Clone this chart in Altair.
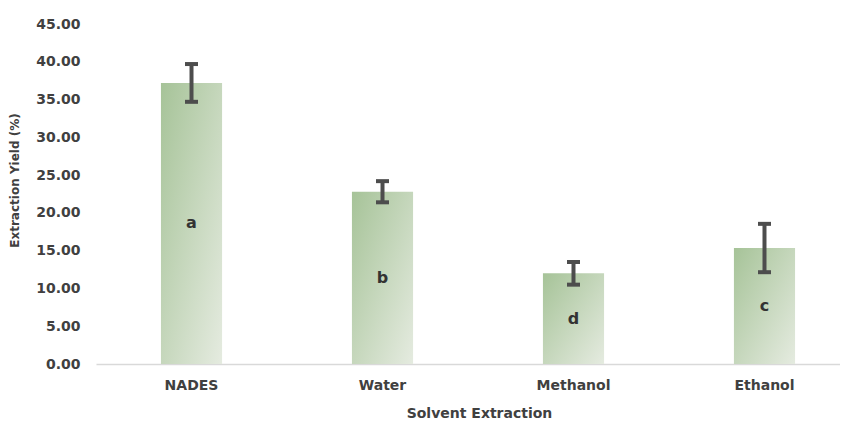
import altair as alt
import pandas as pd

categories = ["NADES", "Water", "Methanol", "Ethanol"]
means = [37.2, 22.8, 12.0, 15.35]
errors = [2.5, 1.4, 1.5, 3.2]
letters = ["a", "b", "d", "c"]
y_ticks = [0, 5, 10, 15, 20, 25, 30, 35, 40, 45]

df = pd.DataFrame({"solvent": categories, "mean": means, "err": errors, "letter": letters})
df["lo"] = df["mean"] - df["err"]
df["hi"] = df["mean"] + df["err"]
df["mid"] = df["mean"] / 2

FONT = "DejaVu Sans"
TXT = "#404040"

xscale = alt.Scale(domain=categories, paddingInner=0.68, paddingOuter=0.2877, align=0.591)
yscale = alt.Scale(domain=[0, 45], nice=False)

xaxis = alt.Axis(title="Solvent Extraction", labelAngle=0, ticks=False,
                 domainColor="#d9d9d9", domainWidth=1.5, labelPadding=14,
                 labelFont=FONT, labelFontSize=14, labelFontWeight="bold", labelColor=TXT,
                 titleFont=FONT, titleFontSize=14, titleFontWeight="bold", titleColor=TXT,
                 titleX=383, titleY=49, titleBaseline="middle", titleAlign="center")
yaxis = alt.Axis(title="Extraction Yield (%)", values=y_ticks, format=".2f",
                 grid=False, domain=False, ticks=False, labelPadding=16,
                 labelOverlap=False,
                 labelFont=FONT, labelFontSize=14, labelFontWeight="bold", labelColor=TXT,
                 titleFont=FONT, titleFontSize=12, titleFontWeight="bold", titleColor=TXT,
                 titleX=-82, titleY=156, titleBaseline="middle", titleAlign="center")

x = alt.X("solvent:N", scale=xscale, sort=categories, axis=xaxis)

def yenc(field):
    return alt.Y(field, scale=yscale, axis=yaxis, title="Extraction Yield (%)")

base = alt.Chart(df)

bars = base.mark_bar(
    color=alt.Gradient(gradient="linear", x1=0, y1=0, x2=1, y2=1,
                       stops=[alt.GradientStop(color="#a6c398", offset=0),
                              alt.GradientStop(color="#e5ebe0", offset=1)])
).encode(x=x, y=yenc("mean:Q"))

rule = base.mark_rule(color="#4d4d4d", strokeWidth=4).encode(
    x=x, y=yenc("lo:Q"), y2="hi:Q")
cap_lo = base.mark_tick(color="#4d4d4d", size=13, thickness=4, opacity=1).encode(
    x=x, y=yenc("lo:Q"))
cap_hi = base.mark_tick(color="#4d4d4d", size=13, thickness=4, opacity=1).encode(
    x=x, y=yenc("hi:Q"))

labels = base.mark_text(font=FONT, fontSize=16, fontWeight="bold", color="#333333",
                        baseline="middle").encode(
    x=x, y=yenc("mid:Q"), text="letter:N")

chart = alt.layer(bars, rule, cap_lo, cap_hi, labels).properties(
    width=744, height=340,
    padding={"left": 0, "top": 9, "right": 0, "bottom": 5},
).configure(background="white").configure_view(strokeWidth=0, stroke="transparent")

chart.save("out.html", embed_options={"renderer": "svg", "actions": False})
